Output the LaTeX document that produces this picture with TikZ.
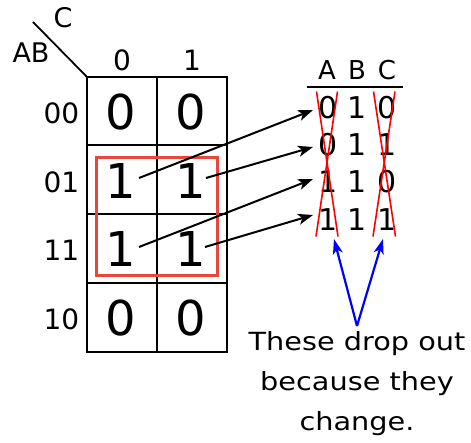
\documentclass[tikz,border=0pt]{standalone}
\usepackage{fontspec}
\setmainfont{DejaVu Sans}
\newfontfamily\capfont{DejaVu Sans}[FakeStretch=1.15]
\usetikzlibrary{arrows.meta}
\definecolor{boxred}{RGB}{232,72,60}
\tikzset{
  grid/.style={draw=black, line width=2pt},
  big/.style={font=\fontsize{48}{48}\selectfont, inner sep=0pt},
  lbl/.style={font=\fontsize{28}{28}\selectfont, inner sep=0pt},
  tdig/.style={font=\fontsize{30}{30}\selectfont, inner sep=0pt},
  thead/.style={font=\fontsize{26}{26}\selectfont, inner sep=0pt},
  arr/.style={line width=2pt, -{Stealth[length=15pt,width=11pt,inset=4pt]}},
  barr/.style={draw=blue, line width=2.2pt, -{Stealth[length=15pt,width=10pt,inset=4pt]}},
  xline/.style={draw=red, line width=1.6pt},
}
\begin{document}
\begin{tikzpicture}[x=1pt,y=-1pt]
\useasboundingbox (0,0) rectangle (471,442);
% grid
\draw[grid] (87,77) rectangle (227,352);
\draw[grid] (157,77) -- (157,352);
\draw[grid] (87,145) -- (227,145);
\draw[grid] (87,214) -- (227,214);
\draw[grid] (87,283) -- (227,283);
\draw[line width=1.8pt] (33,22) -- (87,77);
% labels
\node[font=\fontsize{27}{27}\selectfont, inner sep=0pt] (lC) at (63,18) {C};
\node[font=\fontsize{27}{27}\selectfont, inner sep=0pt] (lAB) at (31,53) {AB};
\node[lbl] (k0) at (122,60) {0};
\node[lbl] (k1) at (192,60) {1};
\node[lbl] (r00) at (61.5,113) {00};
\node[lbl] (r01) at (61.5,182) {01};
\node[lbl] (r11) at (61.5,250) {11};
\node[lbl] (r10) at (61.5,319) {10};
% cells
\node[big] (c00a) at (121,112) {0};
\node[big] (c00b) at (191,112) {0};
\node[big] (c01a) at (121,181) {1};
\node[big] (c01b) at (191,181) {1};
\node[big] (c11a) at (121,249) {1};
\node[big] (c11b) at (191,249) {1};
\node[big] (c10a) at (121,318) {0};
\node[big] (c10b) at (191,318) {0};
% red group
\draw[draw=boxred, line width=3pt] (96,157) rectangle (217,275);
% table
\node[thead] (hA) at (327,70) {A};
\node[thead] (hB) at (357,70) {B};
\node[thead] (hC) at (387,70) {C};
\draw[line width=2pt] (307,87) -- (403,87);
\node[tdig] (t1a) at (328,108) {0};
\node[tdig] (t1b) at (357,108) {1};
\node[tdig] (t1c) at (387,108) {0};
\node[tdig] (t2a) at (328,145) {0};
\node[tdig] (t2b) at (357,145) {1};
\node[tdig] (t2c) at (387,145) {1};
\node[tdig] (t3a) at (328,182) {1};
\node[tdig] (t3b) at (357,182) {1};
\node[tdig] (t3c) at (387,182) {0};
\node[tdig] (t4a) at (328,220) {1};
\node[tdig] (t4b) at (357,220) {1};
\node[tdig] (t4c) at (387,220) {1};
% red X's
\coordinate (xa1) at (316.5,91.5); \coordinate (xa2) at (338,236.5);
\coordinate (xa3) at (337.5,91.5); \coordinate (xa4) at (316,236.5);
\coordinate (xc1) at (373.5,91.5); \coordinate (xc2) at (395.5,236.5);
\coordinate (xc3) at (395,91.5); \coordinate (xc4) at (373,236.5);
\draw[xline] (xa1) -- (xa2);
\draw[xline] (xa3) -- (xa4);
\draw[xline] (xc1) -- (xc2);
\draw[xline] (xc3) -- (xc4);
% black arrows
\coordinate (s1) at (139,178);
\coordinate (s2) at (206,178);
\coordinate (s3) at (139,247);
\coordinate (s4) at (205,247);
\coordinate (e1) at (313,110);
\coordinate (e2) at (313,147);
\coordinate (e3) at (313,179);
\coordinate (e4) at (313,215);
\draw[arr] (s1) -- (e1);
\draw[arr] (s2) -- (e2);
\draw[arr] (s3) -- (e3);
\draw[arr] (s4) -- (e4);
% blue arrows
\coordinate (b0) at (357,326);
\coordinate (bt1) at (334,239);
\coordinate (bt2) at (383,239);
\draw[barr] (b0) -- (bt1);
\draw[barr] (b0) -- (bt2);
% caption
\node[font=\capfont\fontsize{25}{40}\selectfont, align=center, inner sep=0pt, anchor=base] (cap) at (357,430) {These drop out\\because they\\change.};
\end{tikzpicture}
\end{document}
